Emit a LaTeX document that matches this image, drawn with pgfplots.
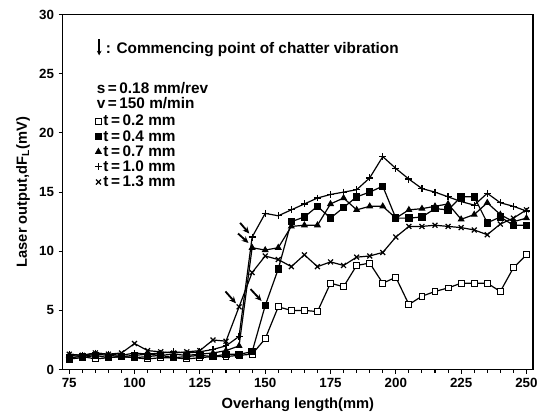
\documentclass[border=0pt]{standalone}
\usepackage{pgfplots}
\pgfplotsset{compat=1.18}
\usepackage{fontspec}
\setmainfont{Liberation Sans}
\usetikzlibrary{arrows.meta}
\begin{document}
\begin{tikzpicture}
\begin{axis}[
  scale only axis,
  width=352.5pt, height=266pt,
  xmin=72.5, xmax=252.5, ymin=0, ymax=30,
  xtick={75,100,...,250}, ytick={0,5,...,30},
  minor x tick num=4,
  tick pos=left, tick align=outside,
  major tick length=3pt, minor tick length=2.5pt,
  axis line style={line width=1.1pt},
  every tick/.style={line width=0.8pt,black},
  /pgf/number format/assume math mode=true,
  tick label style={font=\fontsize{10}{12}\selectfont\bfseries},
  xlabel={Overhang length(mm)},
  ylabel={Laser output,dF\textsubscript{L}(mV)},
  label style={font=\fontsize{11}{12}\selectfont\bfseries},
  xlabel style={yshift=-1pt},
  ylabel style={yshift=0pt},
  every axis plot/.append style={line width=0.9pt, black},
  legend style={draw=none, fill=none, at={(rel axis cs:0.068,0.722)}, anchor=north west,
    font=\fontsize{11.5}{12}\selectfont\bfseries, row sep=-0.6pt, inner sep=0pt,
    nodes={inner sep=1.2pt}},
  legend cell align=left,
  legend image code/.code={\draw[#1] plot coordinates {(0.12cm,0cm)};},
]
\addplot[mark=square*, mark options={fill=white, line width=0.7pt}, mark size=2.2pt] coordinates {
(75,1.0)(80,1.1)(85,0.9)(90,1.0)(95,1.1)(100,1.0)(105,0.9)(110,1.0)(115,1.0)(120,0.9)(125,1.0)(130,1.1)(135,1.1)(140,1.2)(145,1.3)(150,2.6)(155,5.3)(160,5.0)(165,5.0)(170,4.9)(175,7.3)(180,7.0)(185,8.8)(190,9.0)(195,7.3)(200,7.8)(205,5.5)(210,6.2)(215,6.6)(220,6.9)(225,7.3)(230,7.3)(235,7.3)(240,6.6)(245,8.6)(250,9.7)};
\addlegendentry{t\,=\,0.2 mm}
\addplot[mark=square*, mark size=2.3pt] coordinates {
(75,0.9)(80,1.0)(85,1.2)(90,1.0)(95,1.1)(100,1.0)(105,1.1)(110,1.2)(115,1.0)(120,1.1)(125,1.2)(130,1.1)(135,1.3)(140,1.3)(145,1.5)(150,5.4)(155,8.5)(160,12.5)(165,12.9)(170,13.8)(175,12.8)(180,13.7)(185,14.6)(190,15.0)(195,15.5)(200,12.8)(205,12.8)(210,12.9)(215,13.6)(220,13.5)(225,14.6)(230,14.6)(235,12.4)(240,12.9)(245,12.2)(250,12.2)};
\addlegendentry{t\,=\,0.4 mm}
\addplot[mark=triangle*, mark size=2.2pt] coordinates {
(75,1.2)(80,1.1)(85,1.3)(90,1.2)(95,1.1)(100,1.2)(105,1.3)(110,1.2)(115,1.3)(120,1.2)(125,1.3)(130,1.4)(135,1.6)(140,2.0)(145,10.3)(150,10.1)(155,10.3)(160,12.1)(165,12.2)(170,12.2)(175,14.0)(180,14.5)(185,13.5)(190,13.8)(195,13.8)(200,12.8)(205,13.5)(210,13.6)(215,13.8)(220,14.0)(225,12.7)(230,13.1)(235,14.1)(240,13.1)(245,12.5)(250,12.8)};
\addlegendentry{t\,=\,0.7 mm}
\addplot[mark=+, mark size=2.6pt] coordinates {
(75,1.3)(80,1.2)(85,1.4)(90,1.3)(95,1.2)(100,1.4)(105,1.3)(110,1.4)(115,1.5)(120,1.4)(125,1.5)(130,1.7)(135,2.0)(140,2.8)(145,11.2)(150,13.2)(155,13.0)(160,13.5)(165,14.0)(170,14.5)(175,14.8)(180,15.0)(185,15.2)(190,16.2)(195,18.0)(200,17.0)(205,16.1)(210,15.3)(215,15.0)(220,14.6)(225,14.2)(230,13.9)(235,14.9)(240,14.1)(245,13.8)(250,13.4)};
\addlegendentry{t\,=\,1.0 mm}
\addplot[mark=x, mark size=2.6pt] coordinates {
(75,1.3)(80,1.2)(85,1.4)(90,1.3)(95,1.4)(100,2.2)(105,1.6)(110,1.5)(115,1.4)(120,1.5)(125,1.6)(130,2.5)(135,2.4)(140,5.3)(145,8.2)(150,9.6)(155,9.3)(160,8.7)(165,9.7)(170,8.7)(175,9.1)(180,8.8)(185,9.5)(190,9.6)(195,9.9)(200,11.2)(205,12.1)(210,12.1)(215,12.2)(220,12.1)(225,12.0)(230,11.8)(235,11.4)(240,12.3)(245,12.8)(250,13.5)};
\addlegendentry{t\,=\,1.3 mm}
% commencing-point arrows
\draw[line width=1.4pt, -{Stealth[length=5pt,width=4.5pt]}] (axis cs:140.4,12.4) -- (axis cs:143.9,11.5);
\draw[line width=1.4pt, -{Stealth[length=5pt,width=4.5pt]}] (axis cs:139.6,11.5) -- (axis cs:143.6,10.7);
\draw[line width=1.4pt, -{Stealth[length=5pt,width=4.5pt]}] (axis cs:134.8,6.6) -- (axis cs:138.8,5.6);
\draw[line width=1.4pt, -{Stealth[length=5pt,width=4.5pt]}] (axis cs:144.4,6.8) -- (axis cs:148.6,5.8);
% annotation text
\node[anchor=west, inner sep=0pt, font=\fontsize{11.5}{12}\selectfont\bfseries] at (rel axis cs:0.072,0.907)
  {\tikz[baseline=-0.2ex]\draw[line width=1.3pt,-{Stealth[length=3.5pt,width=3.5pt]}] (0,1.6ex)--(0,-0.4ex);\ : Commencing point of chatter vibration};
\node[anchor=west, inner sep=0pt, font=\fontsize{11.5}{12}\selectfont\bfseries] at (rel axis cs:0.072,0.794) {s\,=\,0.18 mm/rev};
\node[anchor=west, inner sep=0pt, font=\fontsize{11.5}{12}\selectfont\bfseries] at (rel axis cs:0.072,0.752) {v\,=\,150 m/min};
\end{axis}
\pgfresetboundingbox
\path[use as bounding box] ([xshift=-47pt,yshift=-37.5pt]current axis.south west) rectangle ([xshift=10.5pt,yshift=11pt]current axis.north east);
\end{tikzpicture}
\end{document}
